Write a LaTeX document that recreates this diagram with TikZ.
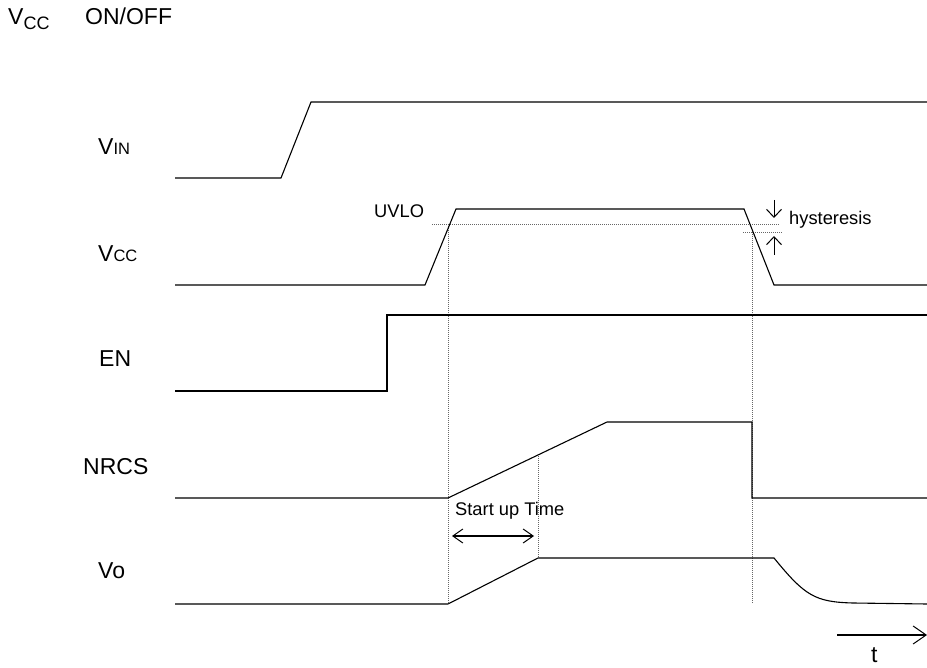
\documentclass[tikz,border=0pt]{standalone}
\usepackage{fontspec}
\setmainfont{Liberation Sans}
\usetikzlibrary{arrows.meta}
\begin{document}
\begin{tikzpicture}[x=1pt,y=-1pt,
  sig/.style={line width=1.1pt,black,line join=miter},
  dotline/.style={gray!80!black,line width=0.9pt,dash pattern=on 1pt off 1pt},
  lbl/.style={anchor=base west,inner sep=0pt,font=\fontsize{23}{27}\selectfont},
  small/.style={anchor=base west,inner sep=0pt,font=\fontsize{18.3}{22}\selectfont},
  barb/.style={-{Straight Barb[length=8pt,width=15pt,line width=1pt]},line width=1pt},
  dbarb/.style={{Straight Barb[length=10pt,width=14pt,line width=1pt]}-{Straight Barb[length=10pt,width=14pt,line width=1pt]},line width=1.1pt},
  tbarb/.style={-{Straight Barb[length=13pt,width=18pt,line width=1pt]},line width=1.1pt}]
\useasboundingbox (0,0) rectangle (927,668);

% title
\node[lbl] (title) at (8,25) {V\raisebox{-0.35ex}{\fontsize{18}{20}\selectfont CC}};
\node[lbl] (onoff) at (85,25) {ON/OFF};

% signal labels
\node[lbl] (lvin) at (98,155) {V{\fontsize{16.5}{20}\selectfont IN}};
\node[lbl] (lvcc) at (98,262) {V{\fontsize{16.5}{20}\selectfont CC}};
\node[lbl] (len) at (99,367) {EN};
\node[lbl] (lnrcs) at (83,475) {NRCS};
\node[lbl] (lvo) at (98,578) {Vo};

% small labels
\node[small] (uvlo) at (374,218) {UVLO};
\node[small] (hyst) at (789,225) {hysteresis};
\node[small] (sut) at (455,515) {Start up Time};
\node[lbl] (tl) at (871,662) {t};

% dotted guide lines
\draw[dotline] (432,224) -- (780,224);
\draw[dotline] (743,232) -- (782,232);
\draw[dotline] (448,224) -- (448,604);
\draw[dotline] (752,232) -- (752,604);
\draw[dotline] (538,454) -- (538,558);

% VIN
\draw[sig] (175,178) -- (281,178) -- (311,102) -- (927,102);
% VCC
\draw[sig] (175,285) -- (425,285) -- (456,209) -- (744,209) -- (774,285) -- (927,285);
% EN
\draw[sig] (175,391) -- (387,391) -- (387,315) -- (927,315);
% NRCS
\draw[sig] (175,498) -- (448,498) -- (607,422) -- (752,422) -- (752,498) -- (927,498);
% Vo
\draw[sig] (175,604) -- (448,604) -- (538,558) -- (774,558)
  .. controls (805,596) and (815,602) .. (853,603) -- (927,604);

% hysteresis arrows
\coordinate (h1a) at (774,200);
\coordinate (h1b) at (774,218);
\coordinate (h2a) at (774,255);
\coordinate (h2b) at (774,236);
\draw[barb] (h1a) -- (h1b);
\draw[barb] (h2a) -- (h2b);

% start up time arrow
\coordinate (s1) at (452,536);
\coordinate (s2) at (534,536);
\draw[dbarb] (s1) -- (s2);

% time arrow
\coordinate (t1) at (837,635);
\coordinate (t2) at (927,635);
\draw[tbarb] (t1) -- (t2);
\end{tikzpicture}
\end{document}
